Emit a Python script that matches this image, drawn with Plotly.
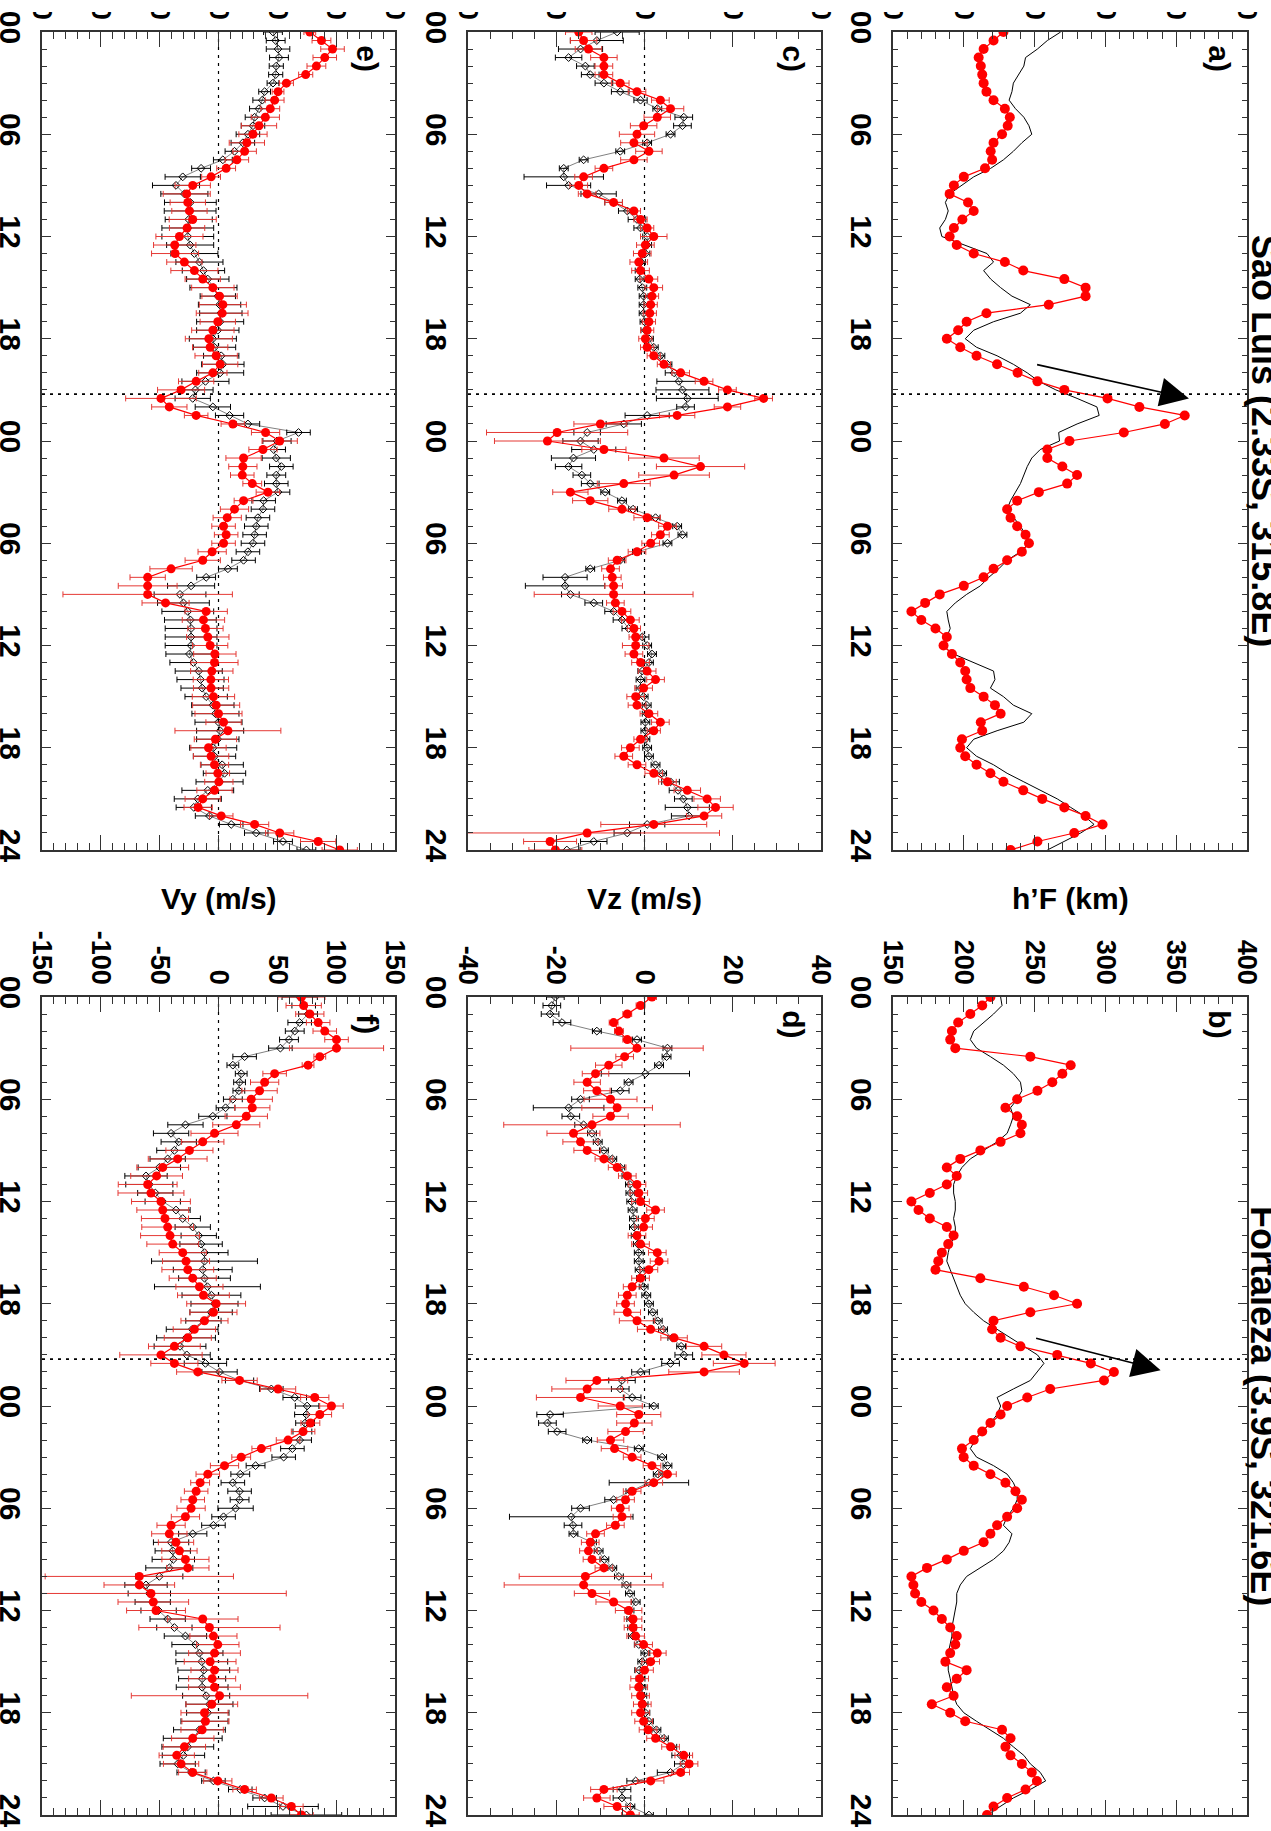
import plotly.graph_objects as go

W, H = 1271, 1831

# ---------------- data ----------------
TIME_H = [k / 2 for k in range(97)]          # 0 .. 48 h, every 30 min
TIME_TICKS = [0, 6, 12, 18, 24, 30, 36, 42, 48]
TIME_LABELS = ["00", "06", "12", "18", "00", "06", "12", "18", "24"]
EVENT_TIME = 21.25

HF_TICKS = [150, 200, 250, 300, 350, 400]
VZ_TICKS = [-40, -20, 0, 20, 40]
VY_TICKS = [-150, -100, -50, 0, 50, 100, 150]

TITLE_SL = "São Luís (2.33S, 315.8E)"
TITLE_FO = "Fortaleza (3.9S, 321.6E)"

# a) h'F Sao Luis
HF_SL_RED = [228, 221, 214, 210.5, 212, 213, 214, 216, 221, 229, 232.5, 231,
             227, 221, 219, 220, 215, 200, 193, 190, 203, 207, 199, 193,
             190, 195, 207, 229, 242, 271, 286, 286, 260, 216, 202, 196,
             188, 197.5, 209, 223.5, 238, 252, 271, 301.5, 324, 356, 342, 313,
             274.6, 259, 259, 269.6, 280, 273, 253, 237.7, 230.6, 233, 237.7, 243.6,
             246, 241, 230.6, 221, 214, 200, 183, 172.7, 163, 170, 180, 188,
             185.7, 191.6, 197.5, 201, 202, 204.6, 214, 222, 226, 212, 213, 198.7,
             197.5, 201, 209, 218.8, 228, 242, 255.4, 271, 286, 298, 278, 252,
             233]
HF_SL_BLK = [268.4, 259, 252, 243.6, 242.4, 239, 235, 234, 232, 236.5, 242.4, 246,
             248, 241, 235, 228, 219, 207, 198.7, 190, 187, 189, 187, 183,
             184.5, 200, 216.4, 221, 214, 219, 226, 234, 247, 240, 221, 207,
             201, 209, 223.5, 235, 244.8, 253, 265, 280, 294, 295.6, 280, 267,
             267.6, 254, 248, 244.8, 242.4, 240, 236.5, 233, 230.6, 235, 240, 243.6,
             246, 240, 230.6, 224.7, 217.6, 211.7, 202, 194, 188, 189, 190.4, 188,
             184.5, 192.8, 207, 221, 222, 218.8, 228, 235, 248, 242.4, 223.5, 207,
             202, 209, 221, 230.6, 242.4, 254, 266, 275.5, 285, 292, 282.6, 270.8,
             259]

# b) h'F Fortaleza
HF_FO_RED = [218.8, 213, 204.6, 196, 191.6, 190.4, 194, 247, 275.5, 269.6, 262.5, 252,
             237.7, 229.4, 237.7, 241, 240, 226, 211.7, 197.5, 188, 195, 188, 176,
             163, 168, 176, 188, 192.8, 189, 184.5, 182, 180, 211.7, 242.4, 263.7,
             280, 247, 221, 220, 226, 240, 266, 289.7, 306, 299, 261, 244.8,
             230.6, 226, 218.8, 213, 207, 198.7, 199.9, 207, 218.8, 229.4, 236.5, 241,
             237.7, 230.6, 223.5, 218.8, 214, 200, 188, 174, 163, 164.4, 165.6, 170,
             178.6, 184.5, 190.4, 195, 194, 190.4, 187, 202, 195, 188, 192.8, 177.4,
             190.4, 201, 227, 233, 229.4, 233, 241, 248, 251.6, 243.6, 230.6, 221,
             216.4]
HF_FO_BLK = [226, 227, 221, 214, 207, 204.6, 209, 218.8, 228, 235, 240, 241,
             237.7, 233, 235, 233, 230.6, 223.5, 214, 204.6, 198.7, 195, 192.8, 192.8,
             194, 194, 192.8, 194, 194, 190.4, 189, 188, 190.4, 192.8, 195, 197.5,
             201, 207, 214, 223.5, 233, 242.4, 252, 256.6, 252, 247, 235, 223.5,
             226, 223.5, 218.8, 213, 208, 204.6, 209, 221, 230.6, 235, 237.7, 237.7,
             235, 230.6, 228, 234, 232, 228, 221, 211.7, 202, 197.5, 195, 195,
             194, 192.8, 191.6, 191.6, 190.4, 189, 189, 189, 190.4, 191.6, 192.8, 195,
             200, 209, 218.8, 228, 235, 242.4, 247, 254, 257.8, 247, 235, 226,
             216.4]

# c) Vz Sao Luis
VZ_SL_RED = [-14.9, -13.8, -12.7, -9.2, -9.2, -9.2, -5.5, -1.7, 3.6, 5.9, 2.9, -0.2,
             -1.7, -2.4, 1.0, -2.4, -9.2, -13.8, -14.9, -13.0, -7.0, -2.4, -0.9, 0.6,
             2.1, 0.2, -0.5, -1.3, -0.9, 1.0, 2.1, 1.7, 1.4, 1.2, 1.0, 0.6,
             0.2, 0.6, 2.1, 4.4, 8.2, 13.5, 18.8, 27.0, 18.8, 7.4, -10.0, -19.8,
             -22.0, -9.2, 4.4, 12.7, 6.7, -4.7, -16.8, -12.3, -5.1, 0.6, 5.2, 3.6,
             1.4, -1.7, -6.2, -7.7, -7.3, -7.0, -7.0, -6.6, -5.1, -3.2, -2.4, -2.0,
             -2.0, -2.4, -0.9, 0.6, 2.5, -0.2, -2.0, -1.7, 1.0, 3.6, 2.1, -0.9,
             -3.2, -4.7, -1.7, 2.1, 5.2, 9.7, 14.2, 16.1, 13.5, 2.1, -13.0, -21.4,
             -20.2]
VZ_SL_BLK = [-6.2, -10.8, -14.5, -17.2, -13.4, -12.3, -9.2, -5.5, -0.9, 2.9, 8.9, 8.6,
             5.9, 0.6, -5.5, -13.8, -18.3, -18.3, -17.2, -10.4, -7.0, -3.9, -1.7, -0.9,
             0.6, 0.6, 0.2, -0.8, -1.1, -1.1, -0.5, -0.2, -0.2, -0.2, 0.0, 0.2,
             1.0, 2.1, 3.6, 5.2, 6.7, 7.8, 8.6, 9.7, 9.3, 0.6, -4.7, -13.0,
             -14.5, -11.5, -16.1, -17.2, -14.2, -12.3, -8.9, -5.1, -2.6, 2.5, 7.4, 8.6,
             5.2, -1.7, -5.5, -12.3, -18.0, -18.0, -16.8, -11.5, -7.0, -5.1, -3.6, -0.5,
             0.6, 1.7, 1.0, -0.5, -0.9, -0.9, -0.2, 0.5, 0.5, 0.2, 0.2, 0.2,
             0.6, 1.0, 2.5, 4.0, 5.9, 7.6, 8.8, 9.7, 10.1, 0.6, -3.9, -11.5,
             -17.6]
VZ_SL_RED_ERR = [3, 3, 3, 3, 2, 2, 2, 2, 2, 3, 3, 3,
                 4, 3, 3, 3, 2, 2, 2, 2, 2, 1.5, 1.5, 1.5,
                 3, 2, 2, 2, 2, 2, 2, 1.5, 1.5, 1.5, 1.5, 1.5,
                 1.5, 1.5, 1.5, 1.5, 2, 2, 2, 2, 3, 4, 6, 16,
                 12, 5, 8, 10, 8, 6, 4, 4, 3, 3, 2, 2,
                 2, 2, 2, 2, 2, 2, 18, 2, 2, 2, 1.5, 1.5,
                 3, 2, 2, 2, 2, 2, 2, 2, 2, 2, 1.5, 1.5,
                 2, 2, 2, 2, 2, 3, 3, 4, 4, 12, 30, 6,
                 6]
VZ_SL_BLK_ERR = [5, 6, 5, 3, 2, 2, 2, 2, 1.5, 1, 2, 2,
                 1, 1, 1, 1, 1, 9, 5, 4, 2, 2, 2, 1.5,
                 1, 1, 1, 1, 1, 1, 1, 1, 1, 1, 1, 1,
                 1, 1, 1, 1, 2, 5, 6, 7, 2, 5, 4, 3,
                 4, 5, 5, 3, 2, 2, 1, 1, 1, 1, 1, 1,
                 1, 1, 1, 1, 5, 9, 2, 2, 2, 2, 1.5, 1.5,
                 1, 1, 1, 1, 1, 1, 1, 1, 1, 1, 1, 1,
                 1, 1, 1, 1, 2, 2, 2, 5, 4, 4, 3, 3,
                 3]

# d) Vz Fortaleza
VZ_FO_RED = [1.7, -0.9, -3.9, -7.0, -5.8, -3.9, -1.7, -4.5, -8.1, -11.1, -13.0, -10.8,
             -7.7, -6.2, -7.7, -11.9, -16.1, -14.5, -13.0, -9.2, -6.2, -3.9, -1.7, -1.3,
             -0.9, 2.5, 0.2, -0.2, -1.7, -0.9, 2.9, 3.3, 1.0, -0.9, -2.8, -3.9,
             -4.3, -3.9, -1.7, 1.4, 6.7, 13.5, 18.0, 22.6, 13.5, -10.8, -13.0, -14.5,
             -5.5, -1.3, -2.3, -4.3, -7.7, -6.8, -2.8, 1.7, 5.2, 2.1, -2.8, -4.3,
             -5.5, -5.1, -6.6, -11.1, -12.3, -12.7, -11.9, -9.2, -13.4, -13.8, -11.9, -7.0,
             -3.6, -2.6, -2.6, -2.0, -0.2, 2.9, 1.4, 0.0, -1.1, -1.3, -0.9, -0.5,
             -0.9, -0.2, 0.8, 2.5, 5.9, 8.9, 10.1, 8.2, 1.4, -9.2, -10.8, -6.2,
             -3.2]
VZ_FO_BLK = [-20.2, -21.0, -21.4, -18.7, -10.8, -1.7, 5.2, 5.0, 3.3, 0.2, -3.6, -5.5,
             -14.5, -17.2, -16.7, -13.8, -11.9, -10.6, -9.2, -7.3, -5.5, -4.1, -3.3, -3.2,
             -3.0, -2.7, -2.4, -2.4, -2.0, -1.5, -1.3, -1.3, -1.1, -0.8, -0.2, 0.4,
             1.0, 1.9, 3.0, 4.2, 6.3, 8.3, 8.9, 5.9, -0.9, -5.1, -5.5, -2.8,
             2.1, -21.4, -22.0, -19.8, -13.0, -1.3, 4.0, 5.2, 3.0, 1.0, -3.2, -7.0,
             -14.5, -16.6, -16.2, -16.1, -11.9, -10.4, -9.1, -7.3, -5.8, -4.1, -3.3, -2.0,
             -3.4, -3.0, -2.8, -2.6, -1.3, 0.2, -0.5, -1.2, -0.9, -0.7, -0.5, -0.2,
             0.2, 1.0, 2.7, 4.4, 6.3, 8.2, 8.8, 5.9, -2.0, -5.1, -5.1, -3.2,
             1.0]
VZ_FO_RED_ERR = [1, 1, 1, 1, 1, 1, 15, 2, 3, 3, 3, 3,
                 6, 8, 4, 20, 6, 4, 3, 2, 2, 2, 2, 2,
                 2, 2, 2, 2, 2, 2, 2, 2, 2, 2, 2, 2,
                 2, 3, 4, 3, 3, 4, 5, 7, 8, 7, 8, 10,
                 5, 5, 4, 4, 3, 3, 2, 2, 2, 2, 2, 2,
                 2, 2, 2, 2, 2, 2, 2, 2, 15, 18, 4, 4,
                 3, 2, 2, 2, 2, 2, 2, 2, 2, 2, 2, 2,
                 2, 2, 2, 2, 2, 2, 2, 2, 3, 3, 3, 3,
                 2]
VZ_FO_BLK_ERR = [2, 2, 2, 2, 1, 1, 1, 1, 1, 10, 1, 2,
                 2, 8, 2, 2, 1, 1, 1, 1, 1, 1, 1, 1,
                 1, 1, 1, 1, 1, 1, 1, 1, 1, 1, 1, 1,
                 1, 1, 1, 1, 1, 1, 2, 2, 2, 3, 2, 2,
                 1, 3, 2, 2, 1, 1, 1, 1, 1, 9, 1, 2,
                 2, 14, 2, 1, 1, 1, 1, 1, 1, 1, 1, 1,
                 1, 1, 1, 1, 1, 1, 1, 1, 1, 1, 1, 1,
                 1, 1, 1, 1, 1, 2, 2, 3, 2, 2, 2, 1,
                 1]

# e) Vy Sao Luis
VY_SL_RED = [77.6, 87.5, 96.9, 90.3, 83.2, 74.1, 57.7, 50.6, 47.7, 44.0, 39.8, 34.4,
             29.3, 24.1, 22.2, 15.6, 6.5, -6.3, -21.9, -27.0, -26.1, -24.7, -21.9, -26.7,
             -33.2, -37.2, -36.9, -29.0, -20.5, -13.4, -4.8, 0.9, 3.7, 3.1, -0.6, -4.8,
             -8.2, -7.1, -2.0, 1.4, -4.8, -19.0, -31.8, -48.9, -41.8, -19.0, 12.2, 40.0,
             52.0, 37.8, 21.3, 20.7, 20.2, 28.7, 42.0, 21.3, 13.6, 7.4, 4.3, 6.5,
             4.3, -5.4, -13.4, -40.3, -60.2, -60.2, -60.2, -45.0, -10.5, -12.8, -11.1, -9.1,
             -7.1, -3.1, -3.4, -5.7, -6.5, -6.3, -4.3, -2.0, 0.0, 4.3, 8.0, -2.6,
             -8.5, -6.3, -3.4, -0.6, 0.3, -3.4, -13.4, -17.3, 2.3, 30.7, 52.0, 84.7,
             103.0]
VY_SL_BLK = [46.3, 48.6, 50.6, 51.4, 49.1, 48.6, 46.3, 39.2, 37.2, 34.4, 30.7, 29.3,
             25.0, 20.7, 13.6, 3.7, -14.8, -30.4, -36.1, -29.0, -23.9, -24.1, -25.3, -26.1,
             -26.1, -24.1, -20.5, -16.2, -12.8, -9.1, -4.3, -0.6, 0.9, 2.0, 1.4, -0.6,
             -4.8, -3.4, 2.3, 3.7, 1.4, -11.1, -19.6, -21.9, -4.8, 9.4, 25.0, 68.0,
             49.7, 46.9, 49.1, 53.4, 49.1, 49.1, 50.6, 38.4, 37.8, 33.5, 32.1, 30.7,
             29.3, 25.0, 21.3, 8.0, -10.5, -23.3, -32.7, -29.8, -26.1, -23.9, -23.3, -23.3,
             -23.3, -24.7, -21.3, -16.8, -15.3, -13.9, -10.5, -4.8, -2.6, 0.0, 1.4, -0.6,
             -4.5, -3.4, 3.1, 5.1, 0.9, -9.1, -17.6, -21.0, -7.7, 10.8, 32.1, 54.8,
             74.7]
VY_SL_RED_ERR = [5, 8, 10, 10, 8, 6, 6, 5, 8, 8, 12, 15,
                 12, 15, 10, 10, 8, 8, 15, 20, 15, 15, 20, 15,
                 20, 18, 20, 15, 20, 15, 18, 15, 20, 22, 15, 18,
                 20, 15, 18, 15, 12, 15, 20, 30, 15, 10, 10, 12,
                 15, 12, 15, 12, 10, 8, 10, 8, 12, 12, 10, 10,
                 10, 12, 15, 18, 15, 25, 72, 20, 18, 18, 15, 18,
                 15, 18, 20, 18, 15, 15, 18, 20, 20, 15, 45, 18,
                 15, 15, 12, 10, 12, 15, 15, 12, 10, 12, 12, 15,
                 15]
VY_SL_BLK_ERR = [8, 8, 10, 8, 6, 6, 5, 5, 8, 8, 8, 10,
                 10, 10, 8, 8, 8, 15, 20, 20, 22, 22, 20, 22,
                 22, 20, 20, 20, 18, 18, 20, 15, 18, 18, 20, 18,
                 20, 18, 15, 18, 20, 20, 15, 15, 15, 12, 10, 10,
                 12, 10, 12, 10, 8, 10, 10, 10, 10, 10, 10, 10,
                 10, 10, 10, 8, 8, 20, 22, 22, 22, 22, 22, 22,
                 22, 20, 20, 20, 20, 18, 18, 18, 20, 20, 20, 18,
                 20, 18, 18, 18, 20, 22, 20, 15, 12, 10, 10, 8,
                 8]

# f) Vy Fortaleza
VY_FO_RED = [70.5, 72.4, 77.6, 84.7, 90.3, 100.3, 100.3, 86.1, 76.1, 47.7, 39.2, 34.9,
             27.8, 28.7, 23.6, 15.1, -3.4, -13.4, -24.7, -34.7, -47.4, -52.6, -60.2, -57.4,
             -48.9, -47.4, -45.5, -43.2, -41.2, -38.9, -30.4, -27.6, -26.1, -21.9, -16.2, -12.8,
             -2.0, -4.3, -11.9, -20.5, -26.1, -37.5, -48.9, -37.5, -17.6, 17.9, 50.6, 81.8,
             96.0, 86.1, 78.1, 71.9, 59.1, 36.4, 19.3, 5.1, -9.1, -15.6, -19.0, -21.9,
             -23.3, -28.1, -40.3, -41.8, -36.1, -33.2, -28.1, -26.1, -67.3, -67.3, -57.4, -55.4,
             -53.1, -13.4, -7.7, -4.3, -0.6, -3.4, -7.1, -3.4, -5.4, -3.4, 0.9, -5.7,
             -11.9, -11.1, -13.9, -21.9, -29.0, -35.5, -31.8, -21.9, -0.6, 22.2, 44.9, 61.9,
             70.5]
VY_FO_BLK = [69.0, 72.4, 76.1, 69.0, 64.8, 59.9, 52.6, 22.2, 12.2, 19.3, 17.9, 17.3,
             12.2, 6.0, -4.8, -28.1, -40.3, -33.8, -37.5, -43.2, -50.3, -61.6, -58.8, -53.7,
             -47.4, -36.1, -30.4, -21.9, -16.8, -14.8, -11.9, -11.9, -13.4, -11.9, -9.4, -6.0,
             -3.4, -6.3, -12.8, -22.4, -27.6, -32.7, -27.0, -11.1, 0.9, 17.9, 44.9, 64.8,
             75.3, 74.7, 73.6, 71.3, 69.0, 62.8, 55.4, 31.5, 18.5, 12.2, 17.9, 17.9,
             14.5, 4.3, -4.3, -21.9, -40.3, -38.9, -38.4, -41.8, -50.3, -61.6, -58.8, -55.9,
             -50.9, -43.2, -37.5, -28.1, -19.6, -16.2, -14.2, -12.5, -13.9, -13.9, -10.5, -7.7,
             -9.1, -11.9, -16.2, -21.9, -26.1, -29.8, -34.7, -23.3, -4.3, 18.5, 39.2, 54.8,
             74.7]
VY_FO_RED_ERR = [20, 15, 12, 10, 10, 10, 40, 5, 5, 10, 12, 15,
                 18, 15, 18, 20, 20, 18, 20, 25, 22, 22, 25, 28,
                 25, 22, 20, 22, 25, 22, 20, 20, 22, 20, 20, 22,
                 25, 20, 20, 18, 20, 22, 35, 20, 18, 15, 15, 12,
                 10, 10, 8, 10, 10, 8, 8, 12, 10, 8, 10, 10,
                 12, 12, 12, 15, 15, 15, 20, 18, 80, 30, 115, 30,
                 25, 30, 60, 20, 18, 22, 22, 20, 20, 22, 75, 22,
                 20, 20, 18, 18, 18, 15, 15, 12, 12, 10, 10, 10,
                 10]
VY_FO_BLK_ERR = [15, 10, 8, 10, 8, 8, 10, 10, 5, 5, 5, 5,
                 8, 8, 12, 15, 15, 15, 15, 15, 18, 18, 20, 15,
                 15, 12, 15, 15, 15, 18, 20, 45, 25, 22, 45, 25,
                 20, 18, 15, 22, 25, 22, 20, 18, 15, 12, 10, 10,
                 10, 10, 8, 8, 10, 10, 10, 8, 8, 10, 10, 8,
                 15, 10, 10, 12, 15, 15, 18, 20, 20, 18, 18, 15,
                 15, 15, 15, 18, 20, 20, 22, 22, 20, 22, 20, 20,
                 18, 20, 22, 25, 22, 18, 15, 12, 10, 10, 10, 30,
                 30]

# arrows in a) and b): [h'F, time]
ARROW_A_TAIL = [250.7, 19.5]
ARROW_A_HEAD = [359.0, 21.5]
ARROW_B_TAIL = [250.0, 20.0]
ARROW_B_HEAD = [339.0, 21.9]

# ---------------- styling / layout ----------------
FONT = "Liberation Sans, Arial, sans-serif"
AX = "#333333"
RED = "#ff0000"
RED_BAR = "#e53935"

COLS = {"hf": (893, 1247), "vz": (468, 821), "vy": (42, 395)}
ROWS = {"sl": (32, 850), "fo": (997, 1815)}
TOP_CROP_PX = 12   # the original figure is cropped just above the upper panels
VALUE_AXIS = {
    "hf": dict(range=[150, 400], ticks=HF_TICKS, minor=10),
    "vz": dict(range=[-40, 40], ticks=VZ_TICKS, minor=5),
    "vy": dict(range=[-150, 150], ticks=VY_TICKS, minor=10),
}

PANELS = [
    dict(n=1, col="hf", row="sl", label="a)", red=HF_SL_RED, blk=HF_SL_BLK),
    dict(n=2, col="hf", row="fo", label="b)", red=HF_FO_RED, blk=HF_FO_BLK),
    dict(n=3, col="vz", row="sl", label="c)", red=VZ_SL_RED, blk=VZ_SL_BLK,
         rerr=VZ_SL_RED_ERR, berr=VZ_SL_BLK_ERR),
    dict(n=4, col="vz", row="fo", label="d)", red=VZ_FO_RED, blk=VZ_FO_BLK,
         rerr=VZ_FO_RED_ERR, berr=VZ_FO_BLK_ERR),
    dict(n=5, col="vy", row="sl", label="e)", red=VY_SL_RED, blk=VY_SL_BLK,
         rerr=VY_SL_RED_ERR, berr=VY_SL_BLK_ERR),
    dict(n=6, col="vy", row="fo", label="f)", red=VY_FO_RED, blk=VY_FO_BLK,
         rerr=VY_FO_RED_ERR, berr=VY_FO_BLK_ERR),
]

fig = go.Figure()
layout = dict(
    width=W, height=H, margin=dict(l=0, r=0, t=0, b=0, autoexpand=False),
    paper_bgcolor="white", plot_bgcolor="white", showlegend=False,
    font=dict(family=FONT, color="black"),
)
shapes, annotations = [], []

time_font = dict(family=FONT, size=30, color="black", weight="bold")
value_font = dict(family=FONT, size=27, color="black", weight="bold")

for p in PANELS:
    n = p["n"]
    xs = "x" if n == 1 else f"x{n}"
    ys = "y" if n == 1 else f"y{n}"
    x0, x1 = COLS[p["col"]]
    yt, yb = ROWS[p["row"]]
    va = VALUE_AXIS[p["col"]]
    layout[f"xaxis{'' if n == 1 else n}"] = dict(
        domain=[x0 / W, x1 / W], anchor=ys, side="top", range=va["range"],
        tickmode="array", tickvals=va["ticks"], ticktext=[str(v) for v in va["ticks"]],
        ticks="inside", ticklen=15, tickwidth=1.3, tickcolor=AX,
        minor=dict(dtick=va["minor"], tick0=va["range"][0], ticks="inside", ticklen=7,
                   tickwidth=1, tickcolor=AX, showgrid=False),
        showline=True, linecolor=AX, linewidth=1.5, mirror="ticks",
        tickangle=90, tickfont=value_font, ticklabelstandoff=1,
        showgrid=False, zeroline=False, automargin=False,
    )
    layout[f"yaxis{'' if n == 1 else n}"] = dict(
        domain=[1 - yb / H, 1 - yt / H], anchor=xs, range=[48, 0],
        tickmode="array", tickvals=TIME_TICKS, ticktext=TIME_LABELS,
        ticks="inside", ticklen=9, tickwidth=1.3, tickcolor=AX,
        minor=dict(dtick=1, tick0=0, ticks="inside", ticklen=5, tickwidth=1,
                   tickcolor=AX, showgrid=False),
        showline=True, linecolor=AX, linewidth=1.5, mirror="ticks",
        tickangle=90, tickfont=time_font, ticklabelstandoff=4,
        showgrid=False, zeroline=False, automargin=False,
    )

    if "rerr" in p:
        fig.add_trace(go.Scatter(
            x=p["blk"], y=TIME_H, xaxis=xs, yaxis=ys, mode="lines+markers",
            line=dict(color="black", width=0.5),
            marker=dict(symbol="diamond-open", size=6, color="black", line=dict(width=1)),
            error_x=dict(type="data", array=p["berr"], color="black", thickness=1, width=3),
        ))
        fig.add_trace(go.Scatter(
            x=p["red"], y=TIME_H, xaxis=xs, yaxis=ys, mode="lines+markers",
            line=dict(color=RED, width=1.2),
            marker=dict(symbol="circle", size=9, color=RED),
            error_x=dict(type="data", array=p["rerr"], color=RED_BAR, thickness=1, width=3),
        ))
        # zero reference line
        shapes.append(dict(type="line", xref=xs, x0=0, x1=0, yref=f"{ys} domain", y0=0, y1=1,
                           line=dict(color="black", width=1.2, dash="3px,5px"), layer="below"))
    else:
        fig.add_trace(go.Scatter(
            x=p["blk"], y=TIME_H, xaxis=xs, yaxis=ys, mode="lines",
            line=dict(color="black", width=1),
        ))
        fig.add_trace(go.Scatter(
            x=p["red"], y=TIME_H, xaxis=xs, yaxis=ys, mode="lines+markers",
            line=dict(color=RED, width=1.2),
            marker=dict(symbol="circle", size=10, color=RED),
        ))

    # event time line
    shapes.append(dict(type="line", xref=f"{xs} domain", x0=0, x1=1, yref=ys,
                       y0=EVENT_TIME, y1=EVENT_TIME,
                       line=dict(color="black", width=1.6, dash="3px,5px")))
    # panel letter
    annotations.append(dict(text=p["label"], xref=f"{xs} domain", yref=f"{ys} domain",
                            x=0.92, y=0.967, xanchor="center", yanchor="middle",
                            showarrow=False, textangle=90,
                            font=dict(family=FONT, size=30, color="black", weight="bold")))

# white band reproducing the crop at the top edge of the original image
shapes.append(dict(type="rect", xref="paper", yref="paper", x0=0, x1=1,
                   y0=1 - TOP_CROP_PX / H, y1=1.01, fillcolor="white",
                   line=dict(width=0), layer="above"))

# arrows
for n, tail, head in [(1, ARROW_A_TAIL, ARROW_A_HEAD), (2, ARROW_B_TAIL, ARROW_B_HEAD)]:
    xs = "x" if n == 1 else f"x{n}"
    ys = "y" if n == 1 else f"y{n}"
    annotations.append(dict(x=head[0], y=head[1], xref=xs, yref=ys,
                            ax=tail[0], ay=tail[1], axref=xs, ayref=ys,
                            showarrow=True, arrowhead=2, arrowsize=3.6, arrowwidth=1.6,
                            arrowcolor="black", text=""))

# station titles (rotated, partly cropped at the right edge)
for title, yc in [(TITLE_SL, 441), (TITLE_FO, 1406)]:
    annotations.append(dict(text=title, xref="paper", yref="paper", x=1264 / W, y=1 - yc / H,
                            xanchor="center", yanchor="middle", showarrow=False, textangle=90,
                            font=dict(family=FONT, size=36, color="black", weight="bold")))

# axis titles (horizontal, between rows)
for title, xc in [("h’F (km)", 1070), ("Vz (m/s)", 644), ("Vy (m/s)", 219)]:
    annotations.append(dict(text=title, xref="paper", yref="paper", x=xc / W, y=1 - 899 / H,
                            xanchor="center", yanchor="middle", showarrow=False,
                            font=dict(family=FONT, size=30, color="black", weight="bold")))

layout["shapes"] = shapes
layout["annotations"] = annotations
fig.update_layout(**layout)

fig.write_html("out.html", config={"displayModeBar": False},
               post_script="document.body.style.margin='0';document.body.style.overflow='hidden';")
